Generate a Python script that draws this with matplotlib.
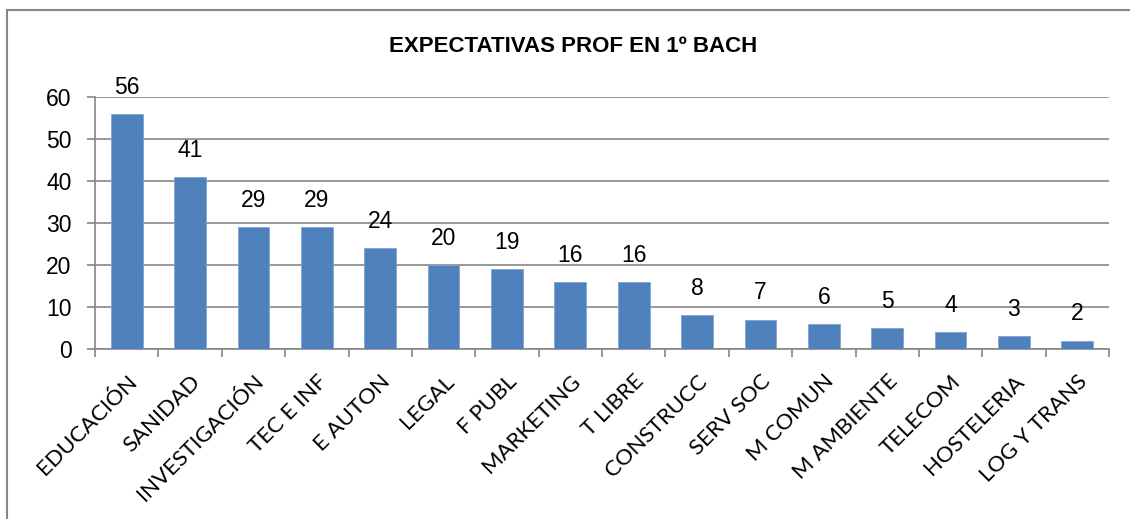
import matplotlib
matplotlib.use("Agg")
import matplotlib.pyplot as plt
from matplotlib.lines import Line2D

categories = ["EDUCACIÓN", "SANIDAD", "INVESTIGACIÓN", "TEC E INF", "E AUTON", "LEGAL",
              "F PUBL", "MARKETING", "T LIBRE", "CONSTRUCC", "SERV SOC", "M COMUN",
              "M AMBIENTE", "TELECOM", "HOSTELERIA", "LOG Y TRANS"]
values = [56, 41, 29, 29, 24, 20, 19, 16, 16, 8, 7, 6, 5, 4, 3, 2]
y_ticks = [0, 10, 20, 30, 40, 50, 60]

narrow = ["Liberation Sans Narrow", "Liberation Sans", "DejaVu Sans"]
cat_font = ["Lato", "DejaVu Sans"]

fig = plt.figure(figsize=(11.3, 5.19), dpi=100)
ax = fig.add_axes([95 / 1130, 1 - 349 / 519, (1109 - 95) / 1130, (349 - 97) / 519])

x = list(range(len(categories)))
ax.bar(x, values, width=0.5, color="#4F81BD", edgecolor="#7FA3D0", linewidth=0.6, zorder=3)

for xi, v in zip(x, values):
    ax.annotate(str(v), (xi, v), xytext=(0, 11), textcoords="offset points",
                ha="center", va="bottom", fontsize=16.5, family=narrow)

ax.set_xlim(-0.5, len(categories) - 0.5)
ax.set_ylim(0, 60)
ax.set_yticks(y_ticks)
ax.set_yticklabels([str(t) for t in y_ticks], family=narrow, fontsize=16.5)
ax.yaxis.grid(True, color="#868686", linewidth=1.2, zorder=0)
ax.tick_params(axis="y", length=6, width=1.2, color="#868686", pad=11, direction="out")

ax.set_xticks([i - 0.5 for i in range(len(categories) + 1)], minor=False)
ax.set_xticklabels([""] * (len(categories) + 1))
ax.tick_params(axis="x", length=6, width=1.2, color="#868686")
ax.set_xticks(x, minor=True)
ax.set_xticklabels(categories, minor=True, rotation=45, ha="right", va="top",
                   rotation_mode="anchor", family=cat_font, fontsize=16)
ax.tick_params(axis="x", which="minor", length=0, pad=16)

for side in ["top", "right"]:
    ax.spines[side].set_visible(False)
for side in ["left", "bottom"]:
    ax.spines[side].set_color("#868686")
    ax.spines[side].set_linewidth(1.2)

fig.text(573 / 1130, 1 - 47 / 519, "EXPECTATIVAS PROF EN 1º BACH", ha="center", va="center",
         fontsize=16, fontweight="bold", family=narrow)

# outer chart frame (only top and left edges visible in crop)
fig.add_artist(Line2D([7 / 1130, 7 / 1130], [0, 1 - 10 / 519], transform=fig.transFigure,
                      color="#868686", linewidth=1.5))
fig.add_artist(Line2D([7 / 1130, 1], [1 - 10 / 519, 1 - 10 / 519], transform=fig.transFigure,
                      color="#868686", linewidth=1.5))

fig.savefig("out.png", dpi=100)
